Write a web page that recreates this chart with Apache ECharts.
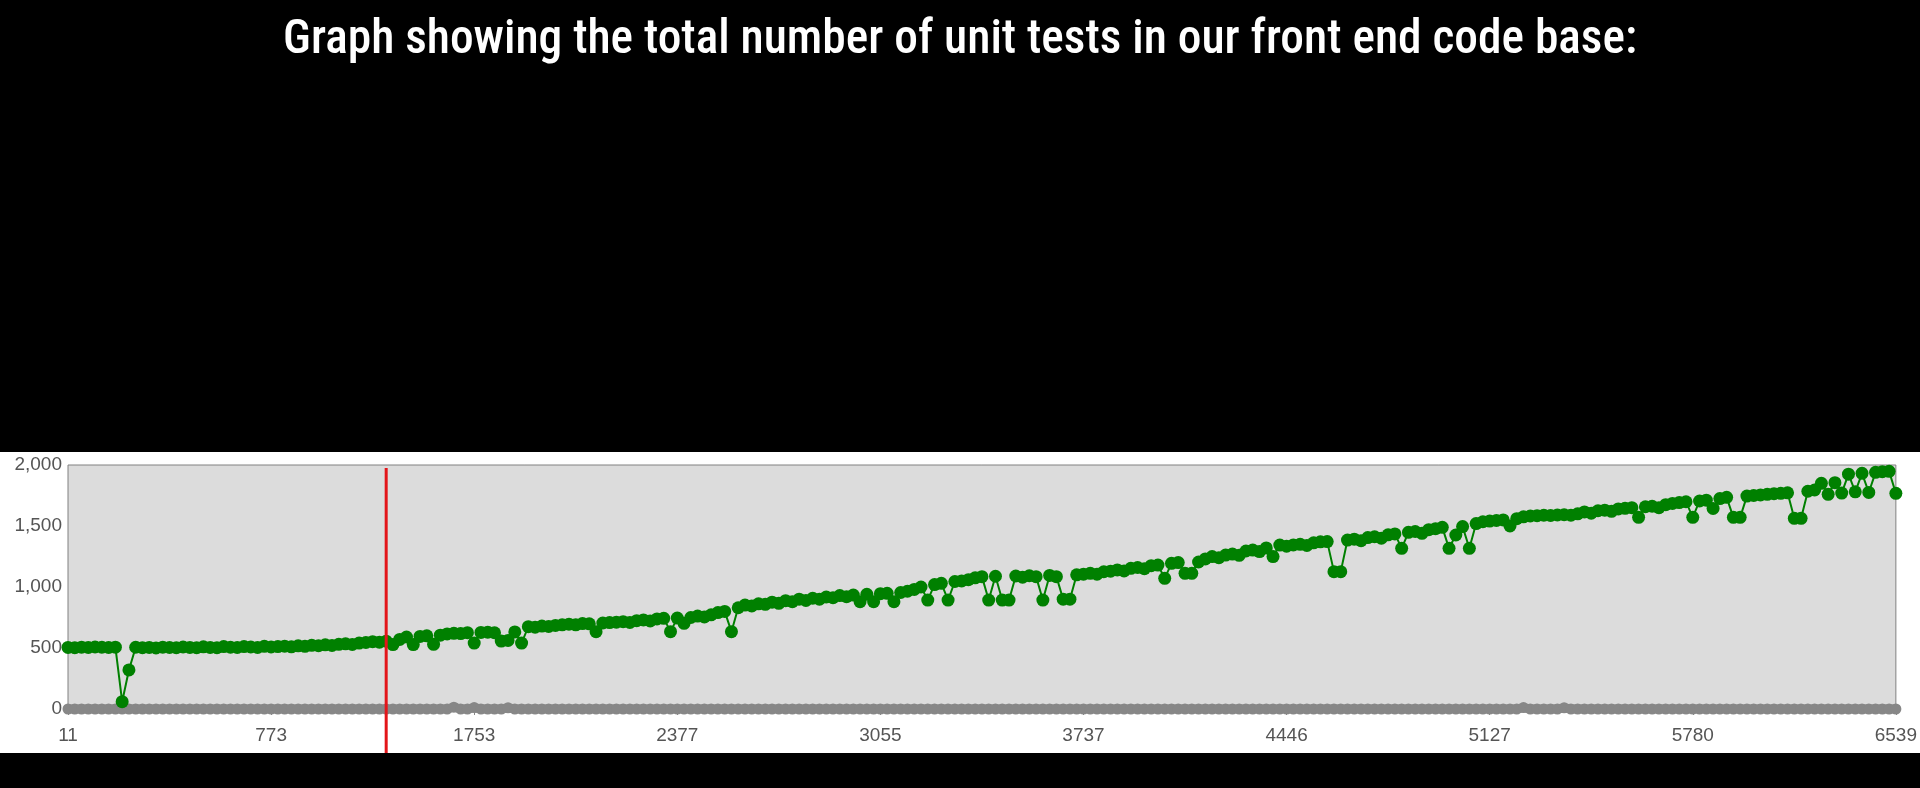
<!DOCTYPE html>
<html>
<head>
<meta charset="utf-8">
<style>
  html, body { margin: 0; padding: 0; background: #000; }
  #chart { width: 1920px; height: 788px; }
</style>
<script src="https://cdn.jsdelivr.net/npm/echarts@6/dist/echarts.min.js"></script>
</head>
<body>
<div id="chart"></div>
<script>
// ---- data ----
const titleText = 'Graph showing the total number of unit tests in our front end code base:';
const tickLabels = ['11', '773', '1753', '2377', '3055', '3737', '4446', '5127', '5780', '6539'];
const pointsPerTick = 30;
const yTicks = [0, 500, 1000, 1500, 2000];

// total unit tests per build (green)
const testCounts = [
  // 11 -> 773
  505, 503, 507, 505, 508, 506, 504, 507, 60, 320,
  506, 503, 505, 500, 507, 504, 502, 508, 505, 503,
  510, 505, 502, 512, 506, 504, 512, 508, 505, 514,
  // 773 -> 1753
  508, 512, 515, 510, 518, 514, 522, 519, 526, 521,
  530, 534, 529, 540, 545, 552, 548, 556, 528, 570,
  590, 528, 595, 600, 530, 605, 615, 620, 618, 626,
  // 1753 -> 2377
  540, 628, 630, 625, 557, 562, 632, 540, 675, 670,
  680, 677, 685, 690, 695, 690, 700, 698, 634, 705,
  708, 712, 716, 710, 724, 730, 722, 738, 743, 634,
  // 2377 -> 3055
  745, 702, 750, 762, 755, 772, 790, 800, 634, 830,
  852, 845, 862, 858, 876, 866, 888, 880, 900, 890,
  908, 900, 918, 912, 930, 920, 934, 880, 940, 880,
  // 3055 -> 3737
  945, 948, 880, 955, 965, 980, 1000, 893, 1020, 1030,
  893, 1045, 1050, 1060, 1075, 1085, 893, 1088, 893, 893,
  1090, 1080, 1092, 1085, 893, 1095, 1085, 900, 900, 1100,
  // 3737 -> 4446
  1105, 1112, 1105, 1125, 1130, 1140, 1132, 1153, 1160, 1150,
  1175, 1180, 1071, 1194, 1200, 1112, 1112, 1205, 1230, 1249,
  1240, 1262, 1270, 1260, 1295, 1303, 1290, 1320, 1249, 1344,
  // 4446 -> 5127
  1335, 1345, 1350, 1340, 1362, 1370, 1372, 1126, 1126, 1385,
  1392, 1380, 1405, 1412, 1400, 1428, 1435, 1317, 1448, 1455,
  1440, 1470, 1478, 1489, 1317, 1426, 1495, 1317, 1520, 1535,
  // 5127 -> 5780
  1540, 1545, 1550, 1500, 1560, 1575, 1582, 1585, 1588, 1586,
  1590, 1592, 1588, 1600, 1615, 1605, 1625, 1630, 1620, 1640,
  1645, 1650, 1571, 1658, 1662, 1650, 1675, 1685, 1692, 1699,
  // 5780 -> 6539
  1571, 1705, 1712, 1644, 1725, 1735, 1571, 1571, 1745, 1750,
  1755, 1760, 1765, 1768, 1772, 1563, 1563, 1785, 1795, 1850,
  1760, 1855, 1770, 1925, 1780, 1932, 1775, 1940, 1945, 1948,
  1768
];

// failing / zero-line series (grey)
const zeroCounts = [
  0, 0, 0, 0, 0, 0, 0, 0, 0, 0,
  0, 0, 0, 0, 0, 0, 0, 0, 0, 0,
  0, 0, 0, 0, 0, 0, 0, 0, 0, 0,
  0, 0, 0, 0, 0, 0, 0, 0, 0, 0,
  0, 0, 0, 0, 0, 0, 0, 0, 0, 0,
  0, 0, 0, 0, 0, 0, 0, 15, 0, 0,
  12, 0, 0, 0, 0, 10, 0, 0, 0, 0,
  0, 0, 0, 0, 0, 0, 0, 0, 0, 0,
  0, 0, 0, 0, 0, 0, 0, 0, 0, 0,
  0, 0, 0, 0, 0, 0, 0, 0, 0, 0,
  0, 0, 0, 0, 0, 0, 0, 0, 0, 0,
  0, 0, 0, 0, 0, 0, 0, 0, 0, 0,
  0, 0, 0, 0, 0, 0, 0, 0, 0, 0,
  0, 0, 0, 0, 0, 0, 0, 0, 0, 0,
  0, 0, 0, 0, 0, 0, 0, 0, 0, 0,
  0, 0, 0, 0, 0, 0, 0, 0, 0, 0,
  0, 0, 0, 0, 0, 0, 0, 0, 0, 0,
  0, 0, 0, 0, 0, 0, 0, 0, 0, 0,
  0, 0, 0, 0, 0, 0, 0, 0, 0, 0,
  0, 0, 0, 0, 0, 0, 0, 0, 0, 0,
  0, 0, 0, 0, 0, 0, 0, 0, 0, 0,
  0, 0, 0, 0, 0, 12, 0, 0, 0, 0,
  0, 10, 0, 0, 0, 0, 0, 0, 0, 0,
  0, 0, 0, 0, 0, 0, 0, 0, 0, 0,
  0, 0, 0, 0, 0, 0, 0, 0, 0, 0,
  0, 0, 0, 0, 0, 0, 0, 0, 0, 0,
  0, 0, 0, 0, 0, 0, 0, 0, 0, 0,
  0
];

const markerIndex = 47; // red annotation line position (category index)

// ---- categories (build numbers along the axis) ----
const categories = [];
for (let k = 0; k < tickLabels.length - 1; k++) {
  const a = +tickLabels[k], b = +tickLabels[k + 1];
  for (let j = 0; j < pointsPerTick; j++) {
    categories.push(j === 0 ? tickLabels[k] : String(Math.round(a + (b - a) * j / pointsPerTick)));
  }
}
categories.push(tickLabels[tickLabels.length - 1]);

// ---- title scaling (condensed look) ----
const titleFont = '500 49px "Roboto Condensed", Roboto, sans-serif';
const mctx = document.createElement('canvas').getContext('2d');
mctx.font = titleFont;
const titleScale = 1354 / mctx.measureText(titleText).width;

const chart = echarts.init(document.getElementById('chart'));
const labelFont = { color: '#555', fontSize: 19, fontFamily: '"Liberation Sans", Arial, sans-serif' };

chart.setOption({
  animation: false,
  backgroundColor: '#000',
  graphic: {
    elements: [
      { type: 'rect', id: 'panel', z: -10, shape: { x: 0, y: 452, width: 1920, height: 301 }, style: { fill: '#fff' } },
      { type: 'text', id: 'title', x: 960, y: 41, scaleX: titleScale, z: 10,
        style: { text: titleText, font: titleFont, fill: '#fff', textAlign: 'center', textVerticalAlign: 'middle' } }
    ]
  },
  grid: {
    left: 68, right: 23, top: 465, bottom: 79,
    show: true, backgroundColor: '#dcdcdc', borderColor: '#808080', borderWidth: 1
  },
  xAxis: {
    type: 'category',
    data: categories,
    boundaryGap: false,
    axisLine: { show: false },
    axisTick: { show: true, interval: pointsPerTick - 1, length: 6, lineStyle: { color: '#888' } },
    axisLabel: Object.assign({ interval: pointsPerTick - 1, margin: 17 }, labelFont),
    splitLine: { show: false }
  },
  yAxis: {
    type: 'value',
    min: yTicks[0], max: yTicks[yTicks.length - 1], interval: yTicks[1] - yTicks[0],
    axisLine: { show: false },
    axisTick: { show: false },
    splitLine: { show: false },
    axisLabel: Object.assign({ margin: 6, formatter: v => v.toLocaleString('en-US') }, labelFont)
  },
  series: [
    {
      name: 'zero', type: 'line', data: zeroCounts, clip: false, z: 2,
      symbol: 'circle', symbolSize: 11, showAllSymbol: true,
      itemStyle: { color: '#878787' }, lineStyle: { color: '#878787', width: 9 }
    },
    {
      name: 'tests', type: 'line', data: testCounts, clip: false, z: 3,
      symbol: 'circle', symbolSize: 13, showAllSymbol: true,
      itemStyle: { color: '#008000' }, lineStyle: { color: '#008000', width: 2 }
    }
  ]
});

const rx = chart.convertToPixel({ xAxisIndex: 0 }, markerIndex);
chart.setOption({
  graphic: {
    elements: [
      { type: 'line', id: 'redline', z: 100, shape: { x1: rx, y1: 468, x2: rx, y2: 753 },
        style: { stroke: '#e3151a', lineWidth: 3 } }
    ]
  }
});
</script>
</body>
</html>
